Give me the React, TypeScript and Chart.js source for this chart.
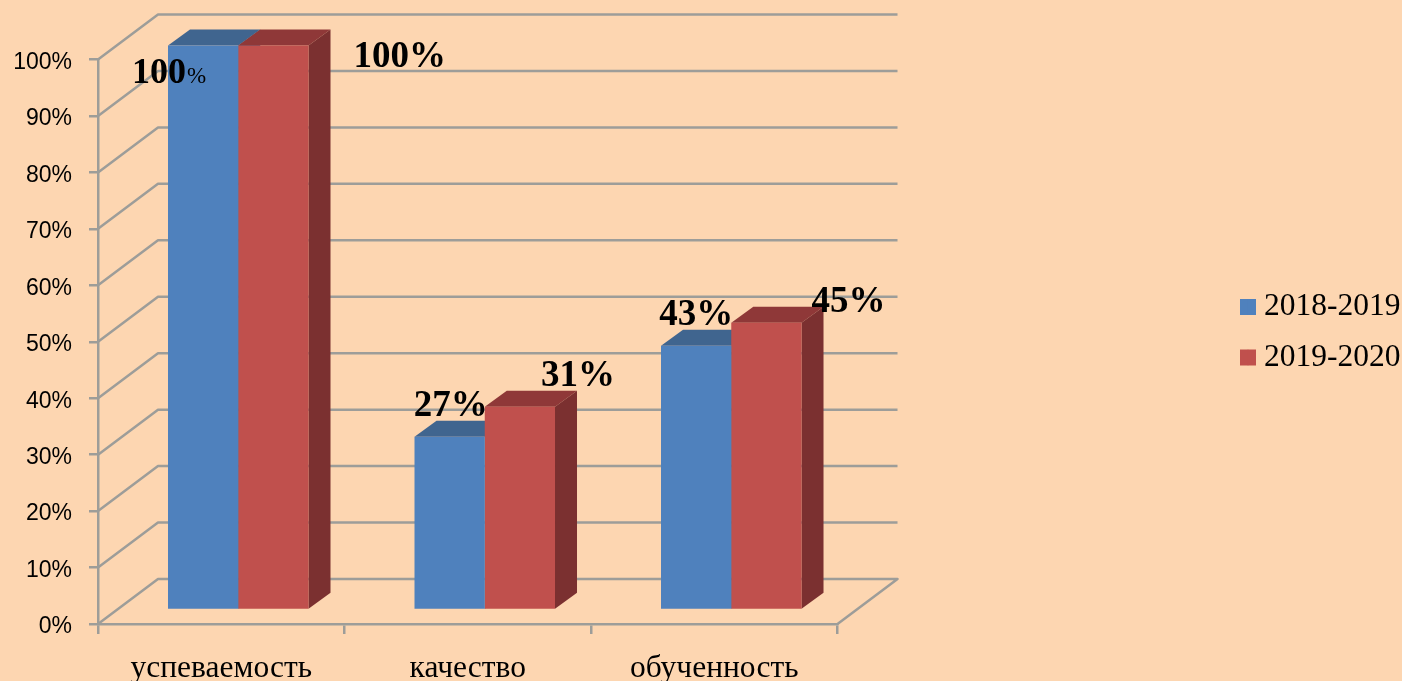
import React, { useEffect, useRef } from "react";
import { Chart, registerables } from "chart.js";

Chart.register(...registerables);

const categories = ["успеваемость", "качество", "обученность"];
const series2018 = [100, 30.7, 46.8];
const series2019 = [100, 36, 50.9];
const labels2018 = ["100", "27%", "43%"];
const labels2019 = ["100%", "31%", "45%"];
const yTicks = [0, 10, 20, 30, 40, 50, 60, 70, 80, 90, 100];

const FRONT_COLORS = ["#4F81BD", "#C0504D"];
const TOP_COLORS = ["#40658F", "#8F3838"];
const SIDE_COLORS = ["#3A5A82", "#7B3030"];
const GRID = "#9D9D99";
const SERIF = '"Liberation Serif", serif';
const SANS = '"Liberation Sans", sans-serif';

const BAR_DEPTH = { x: 22, y: 16 };
const WALL_DEPTH = { x: 60, y: 45 };
const BAR_SHIFT = { x: 17, y: -14 };
const LABEL_OFFSETS = [
  [[-71, 37], [-36, -21], [-37, -21]],
  [[80, 21], [21, -21], [45, -11]],
];
const LEGEND_BOX = 16;
const LEGEND_NATIVE_BOX = 8.25;

function poly(ctx: CanvasRenderingContext2D, pts: number[][], fill: string) {
  ctx.beginPath();
  pts.forEach(([x, y], i) => (i ? ctx.lineTo(x, y) : ctx.moveTo(x, y)));
  ctx.closePath();
  ctx.fillStyle = fill;
  ctx.fill();
}

const chart3d = {
  id: "chart3d",
  afterLayout(chart: any) {
    const lg = chart.legend;
    const padding = lg.options.labels.padding;
    const w = lg.right - lg.left;
    lg.left = 1240 - padding;
    lg.right = lg.left + w;
    lg.top -= 38;
    lg.bottom -= 38;
  },
  afterDraw(chart: any) {
    const { ctx, legend } = chart;
    ctx.save();
    legend.legendHitBoxes.forEach((hb: any, i: number) => {
      ctx.fillStyle = FRONT_COLORS[i];
      ctx.fillRect(hb.left + LEGEND_NATIVE_BOX - 0.5, hb.top + (hb.height - LEGEND_BOX) / 2, LEGEND_BOX - LEGEND_NATIVE_BOX + 0.5, LEGEND_BOX);
    });
    ctx.restore();
  },
  beforeDatasetsDraw(chart: any) {
    const { ctx, chartArea, scales } = chart;
    ctx.save();
    ctx.strokeStyle = GRID;
    ctx.lineWidth = 2.5;
    ctx.lineJoin = "round";
    yTicks.forEach((v) => {
      const y = scales.y.getPixelForValue(v);
      ctx.beginPath();
      ctx.moveTo(chartArea.left, y);
      ctx.lineTo(chartArea.left + WALL_DEPTH.x, y - WALL_DEPTH.y);
      ctx.lineTo(chartArea.right + WALL_DEPTH.x, y - WALL_DEPTH.y);
      if (v === 0) ctx.lineTo(chartArea.right, y);
      ctx.stroke();
    });
    ctx.restore();

    ctx.save();
    ctx.translate(BAR_SHIFT.x, BAR_SHIFT.y);
    chart.data.datasets.forEach((_: any, di: number) => {
      chart.getDatasetMeta(di).data.forEach((el: any) => {
        const l = el.x - el.width / 2;
        const r = el.x + el.width / 2;
        const d = BAR_DEPTH;
        poly(ctx, [[l, el.y], [l + d.x, el.y - d.y], [r + d.x, el.y - d.y], [r, el.y]], TOP_COLORS[di]);
        poly(ctx, [[r, el.y], [r + d.x, el.y - d.y], [r + d.x, el.base - d.y], [r, el.base]], SIDE_COLORS[di]);
      });
    });
  },
  afterDatasetsDraw(chart: any) {
    const { ctx } = chart;
    ctx.restore();
    ctx.save();
    ctx.fillStyle = "#000";
    ctx.textAlign = "left";
    ctx.textBaseline = "alphabetic";
    [labels2018, labels2019].forEach((labels, di) => {
      chart.getDatasetMeta(di).data.forEach((el: any, i: number) => {
        const first = di === 0 && i === 0;
        const x = el.x + BAR_SHIFT.x + LABEL_OFFSETS[di][i][0];
        const y = el.y + BAR_SHIFT.y + LABEL_OFFSETS[di][i][1];
        ctx.font = `bold ${first ? 36 : 37}px ${SERIF}`;
        ctx.fillText(labels[i], x, y);
        if (first) {
          const w = ctx.measureText(labels[i]).width;
          ctx.font = `23px ${SERIF}`;
          ctx.fillText("%", x + w + 1, y);
        }
      });
    });
    ctx.restore();
  },
};

export default function App() {
  const ref = useRef<HTMLCanvasElement>(null);
  useEffect(() => {
    const chart = new Chart(ref.current as HTMLCanvasElement, {
      type: "bar",
      plugins: [chart3d],
      data: {
        labels: categories,
        datasets: [
          { label: "2018-2019", data: series2018, backgroundColor: FRONT_COLORS[0], clip: false } as any,
          { label: "2019-2020", data: series2019, backgroundColor: FRONT_COLORS[1], clip: false } as any,
        ],
      },
      options: {
        animation: false,
        responsive: false,
        categoryPercentage: 0.57,
        barPercentage: 1,
        layout: { padding: { top: 59.5, left: 0, right: 0, bottom: 0 } },
        plugins: {
          tooltip: { enabled: false },
          legend: {
            position: "right",
            labels: {
              boxWidth: LEGEND_NATIVE_BOX,
              boxHeight: LEGEND_BOX,
              padding: 19,
              color: "#000",
              font: { family: SERIF, size: 31.5 },
            },
          },
        },
        scales: {
          x: {
            grid: { drawOnChartArea: false, color: GRID, lineWidth: 2.5, tickLength: 10, offset: true },
            border: { color: GRID, width: 2.5 },
            ticks: { color: "#000", font: { family: SERIF, size: 31.5 }, padding: 16, maxRotation: 0 },
            afterFit: (s: any) => { s.height = 57; },
          },
          y: {
            min: 0,
            max: 100,
            grid: { drawOnChartArea: false, color: GRID, lineWidth: 2.5, tickLength: 9 },
            border: { color: GRID, width: 2.5 },
            ticks: { stepSize: 10, color: "#000", font: { family: SANS, size: 23 }, padding: 17, labelOffset: 3, callback: (v: any) => `${v}%` },
            afterFit: (s: any) => { s.width = 98; },
          },
          spacer: {
            position: "right",
            grid: { display: false },
            border: { display: false },
            ticks: { display: false },
            afterFit: (s: any) => { s.width = 375; },
          },
        },
      } as any,
    });
    return () => chart.destroy();
  }, []);
  return (
    <div style={{ position: "fixed", inset: 0, background: "#FDD6B1" }}>
      <canvas ref={ref} width={1402} height={681} style={{ display: "block" }} />
    </div>
  );
}
